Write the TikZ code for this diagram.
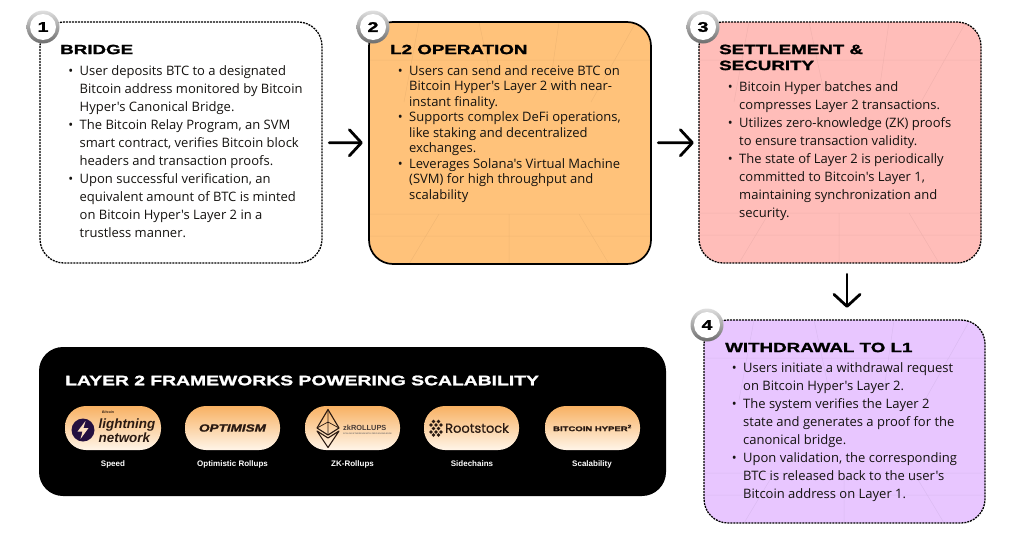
\documentclass[tikz,border=0pt]{standalone}
\usepackage{fontspec}
\usetikzlibrary{arrows.meta,calc}
\setmainfont{Liberation Sans}
\newfontfamily\bodyf{Open Sans}
\newfontfamily\headf[FakeStretch=1.4,FakeBold=1.6]{Liberation Sans Bold}
\newfontfamily\logof{Liberation Sans Bold}
\newfontfamily\liteit{Liberation Sans Bold Italic}
\newfontfamily\optf[FakeStretch=1.3,FakeBold=1.5]{Liberation Sans Bold Italic}
\newfontfamily\rootf[FakeBold=.6]{Poppins}
\newcommand{\bul}{\leavevmode\llap{\textbullet\hspace{6.5pt}}}
\newcommand{\numbadge}[4]{%
  \shade[top color=gray!25,bottom color=gray!85!black] (#2,#3) circle (16.5pt);
  \node[badge] (#1) at (#2,#3) {#4};}
\newcommand{\gridlines}[5]{% x0 y0 x1 y1 colour : faint perspective texture
  \begin{scope}
  \clip[rounded corners=24pt] (#1,#2) rectangle (#3,#4);
  \draw[#5,opacity=.055,line width=.5pt]
    ({#1+50},#2) -- ({#1+35},{#2+80}) ({#1+110},#2) -- ({#1+125},{#2+70}) ({#1+190},#2) -- ({#1+180},{#2+70}) ({#3-15},#2) -- ({#3-60},{#2+80})
    (#1,{#2+38}) -- (#3,{#2+38})
    (#1,{#4-50}) -- (#3,{#4-50}) (#1,{#4-28}) -- (#3,{#4-28})
    ({#1+70},{#4-50}) -- ({#1+40},#4) ({#1+140},{#4-50}) -- ({#1+140},#4) ({#1+210},{#4-50}) -- ({#1+240},#4);
  \end{scope}}
\definecolor{ink}{HTML}{14120F}
\definecolor{orangeb}{HTML}{FFC27A}
\definecolor{pinkb}{HTML}{FFBDB9}
\definecolor{lilacb}{HTML}{E8C6FF}
\definecolor{pilltop}{HTML}{F8B163}
\definecolor{pillbot}{HTML}{FFF5E8}
\definecolor{logoink}{HTML}{2A1A12}
\definecolor{boltpurple}{HTML}{241040}
\tikzset{
  x=1pt,y=-1pt,
  stepbox/.style={rounded corners=24pt,line width=1.3pt,draw=black,dash pattern=on 2pt off 1pt},
  solidbox/.style={rounded corners=24pt,line width=1.7pt,draw=black},
  flow/.style={line width=2.8pt,draw=black,line cap=round,-{Straight Barb[length=12pt,width=26pt,line width=2.8pt,round]}},
  badge/.style={circle,minimum size=26pt,inner sep=0pt,fill=white,font=\headf\fontsize{14}{15}\selectfont},
  stitle/.style={anchor=west,inner sep=0pt,font=\headf\fontsize{13.4}{16}\selectfont,align=left},
  blist/.style={anchor=north west,inner sep=0pt,align=left,text=ink,font=\bodyf\fontsize{13}{18}\selectfont},
  pillshape/.style={rounded corners=21pt,top color=pilltop,bottom color=pillbot,middle color=pillbot!50!pilltop,draw=none},
  plabel/.style={inner sep=0pt,text=white,font=\logof\fontsize{8}{9}\selectfont},
}
\begin{document}
\begin{tikzpicture}
\useasboundingbox (0,0) rectangle (1024,533);
\fill[white] (0,0) rectangle (1024,533);
% boxes
\draw[stepbox,fill=white] (40,22) rectangle (322,263);
\node[inner sep=0pt,minimum width=282pt,minimum height=241pt] (b1) at (181,142.5) {};
\fill[orangeb,rounded corners=24pt] (369,22) rectangle (651,264);
\gridlines{369}{22}{651}{264}{black}
\draw[solidbox] (369,22) rectangle (651,264);
\node[inner sep=0pt,minimum width=282pt,minimum height=242pt] (b2) at (510,143) {};
\fill[pinkb,rounded corners=24pt] (699,22) rectangle (981,263);
\gridlines{699}{22}{981}{263}{black}
\draw[stepbox] (699,22) rectangle (981,263);
\node[inner sep=0pt,minimum width=282pt,minimum height=241pt] (b3) at (840,142.5) {};
\fill[lilacb,rounded corners=24pt] (704,320) rectangle (985,523);
\gridlines{704}{320}{985}{523}{black}
\draw[stepbox] (704,320) rectangle (985,523);
\node[inner sep=0pt,minimum width=281pt,minimum height=203pt] (b4) at (844.5,421.5) {};
% arrows
\draw[flow,shorten <=7pt,shorten >=6pt] (b1) -- (b2);
\draw[flow,shorten <=7pt,shorten >=5pt] (b2) -- (b3);
\draw[flow,shorten <=11pt,shorten >=12pt] ($(b3.south)+(7,0)$) -- ($(b4.north)+(2.5,0)$);
% badges
\numbadge{n1}{43}{27}{1}
\numbadge{n2}{373}{27}{2}
\numbadge{n3}{703}{27}{3}
\numbadge{n4}{707}{325}{4}
% titles
\node[stitle] (t1) at (60,49.5) {BRIDGE};
\node[stitle] (t2) at (390,49.5) {L2 OPERATION};
\node[stitle,anchor=north west,inner sep=0pt] (t3) at (719,44.5) {SETTLEMENT \&\\SECURITY};
\node[stitle] (t4) at (725,347.5) {WITHDRAWAL TO L1};
% lists
\node[blist] (l1) at (79.5,65) {\bul User deposits BTC to a designated\\Bitcoin address monitored by Bitcoin\\Hyper's Canonical Bridge.\\\bul The Bitcoin Relay Program, an SVM\\smart contract, verifies Bitcoin block\\headers and transaction proofs.\\\bul Upon successful verification, an\\equivalent amount of BTC is minted\\on Bitcoin Hyper's Layer 2 in a\\trustless manner.};
\node[blist,font=\bodyf\fontsize{13}{15.5}\selectfont] (l2) at (409,65) {\bul Users can send and receive BTC on\\Bitcoin Hyper's Layer 2 with near-\\instant finality.\\\bul Supports complex DeFi operations,\\like staking and decentralized\\exchanges.\\\bul Leverages Solana's Virtual Machine\\(SVM) for high throughput and\\scalability};
\node[blist] (l3) at (739,81) {\bul Bitcoin Hyper batches and\\compresses Layer 2 transactions.\\\bul Utilizes zero-knowledge (ZK) proofs\\to ensure transaction validity.\\\bul The state of Layer 2 is periodically\\committed to Bitcoin's Layer 1,\\maintaining synchronization and\\security.};
\node[blist] (l4) at (743,362) {\bul Users initiate a withdrawal request\\on Bitcoin Hyper's Layer 2.\\\bul The system verifies the Layer 2\\state and generates a proof for the\\canonical bridge.\\\bul Upon validation, the corresponding\\BTC is released back to the user's\\Bitcoin address on Layer 1.};
% black panel
\fill[black,rounded corners=24pt] (39,347) rectangle (666,496);
\node[stitle,text=white,font=\headf\fontsize{13.8}{16}\selectfont] (pt) at (65,380.5) {LAYER 2 FRAMEWORKS POWERING SCALABILITY};
% pills
\fill[pillshape] (65,406) rectangle (161,450);
\fill[pillshape] (185,406) rectangle (280,450);
\fill[pillshape] (305,406) rectangle (400,450);
\fill[pillshape] (424,406) rectangle (519,450);
\fill[pillshape] (545,406) rectangle (640,450);
% pill labels
\node[plabel] (s1) at (113,464) {Speed};
\node[plabel] (s2) at (232.5,464) {Optimistic Rollups};
\node[plabel] (s3) at (352.5,464) {ZK-Rollups};
\node[plabel] (s4) at (472,464) {Sidechains};
\node[plabel] (s5) at (592,464) {Scalability};
% logos
\fill[boltpurple] (83,430) circle (11.5pt);
\fill[pillbot!70!pilltop] (85.5,421) -- (77.5,431.5) -- (82.5,431.5) -- (80.5,439) -- (88.5,428) -- (83.5,428) -- cycle;
\node[inner sep=0pt,text=logoink,font=\liteit\fontsize{13.4}{11}\selectfont,align=left,anchor=west] (lg1) at (98.5,430.5) {lightning\\network};
\node[inner sep=0pt,text=logoink,font=\liteit\fontsize{3.5}{4}\selectfont,anchor=west] (lg1b) at (102,412.5) {Bitcoin};
\node[inner sep=0pt,text=logoink,font=\optf\fontsize{10.4}{10}\selectfont] (lg2) at (232.5,428) {OPTIMISM};
\draw[logoink,line width=1.1pt,line join=round] (328,409.5) -- (339,428) -- (328,435) -- (317,428) -- cycle;
\draw[logoink,line width=1.1pt,line join=round] (317,431) -- (328,447.5) -- (339,431) -- (328,438) -- cycle;
\draw[logoink,line width=.7pt] (328,409.5) -- (328,435) (317,428) -- (328,422) -- (339,428);
\node[inner sep=0pt,text=logoink!85,font=\logof\fontsize{7.4}{8}\selectfont,anchor=west] (lg3) at (343,428) {zkROLLUPS};
\node[inner sep=0pt,text=logoink!60,font=\logof\fontsize{2.1}{3}\selectfont,anchor=west] (lg3b) at (343,434) {SCALING ETHEREUM WITH ZERO KNOWLEDGE};
\node[inner sep=0pt,text=logoink,font=\rootf\fontsize{13}{14}\selectfont,anchor=west] (lg4) at (445,428) {Rootstock};
\foreach \px/\py in {433.5/421.5,438.5/421.5,431/425,436/425,441/425,433.5/428.5,438.5/428.5,431/432,436/432,441/432,433.5/435,438.5/435}
  \fill[logoink] (\px,\py) circle (1.9pt);
\node[inner sep=0pt,text=logoink,font=\headf\fontsize{6.8}{8}\selectfont] (lg5) at (592.5,428) {BITCOIN HYPER\textsuperscript{2}};
\end{tikzpicture}
\end{document}
